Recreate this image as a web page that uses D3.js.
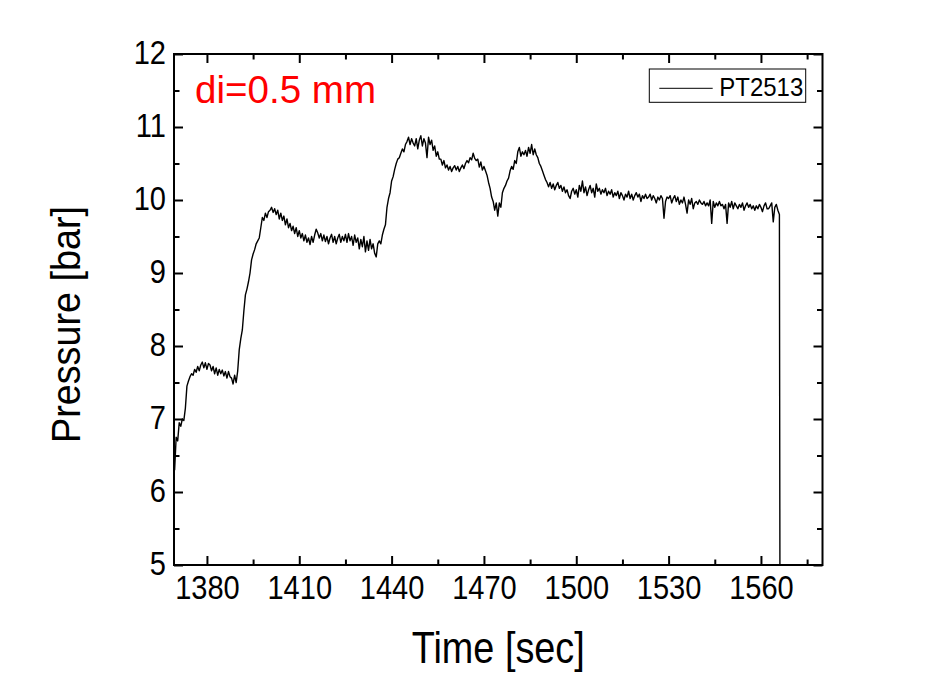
<!DOCTYPE html>
<html>
<head>
<meta charset="utf-8">
<script src="https://cdn.jsdelivr.net/npm/d3@7"></script>
<style>
  body { margin: 0; background: #fff; }
</style>
</head>
<body>
<div id="chart"></div>
<script>
// Sample times [sec]
const timeSec = [
  1369.5, 1370, 1370.5, 1371, 1371.5, 1372, 1372.5, 1373, 1373.5, 1374,
  1374.5, 1375, 1375.5, 1376, 1376.5, 1377, 1377.5, 1378, 1378.5, 1379,
  1379.5, 1380, 1380.5, 1381, 1381.5, 1382, 1382.5, 1383, 1383.5, 1384,
  1384.5, 1385, 1385.5, 1386, 1386.5, 1387, 1387.5, 1388, 1388.5, 1389,
  1389.5, 1390, 1390.5, 1391, 1391.5, 1392, 1392.5, 1393, 1393.5, 1394,
  1394.5, 1395, 1395.5, 1396, 1396.5, 1397, 1397.5, 1398, 1398.5, 1399,
  1399.5, 1400, 1400.5, 1401, 1401.5, 1402, 1402.5, 1403, 1403.5, 1404,
  1404.5, 1405, 1405.5, 1406, 1406.5, 1407, 1407.5, 1408, 1408.5, 1409,
  1409.5, 1410, 1410.5, 1411, 1411.5, 1412, 1412.5, 1413, 1413.5, 1414,
  1414.5, 1415, 1415.5, 1416, 1416.5, 1417, 1417.5, 1418, 1418.5, 1419,
  1419.5, 1420, 1420.5, 1421, 1421.5, 1422, 1422.5, 1423, 1423.5, 1424,
  1424.5, 1425, 1425.5, 1426, 1426.5, 1427, 1427.5, 1428, 1428.5, 1429,
  1429.5, 1430, 1430.5, 1431, 1431.5, 1432, 1432.5, 1433, 1433.5, 1434,
  1434.5, 1435, 1435.5, 1436, 1436.5, 1437, 1437.5, 1438, 1438.5, 1439,
  1439.5, 1440, 1440.5, 1441, 1441.5, 1442, 1442.5, 1443, 1443.5, 1444,
  1444.5, 1445, 1445.5, 1446, 1446.5, 1447, 1447.5, 1448, 1448.5, 1449,
  1449.5, 1450, 1450.5, 1451, 1451.5, 1452, 1452.5, 1453, 1453.5, 1454,
  1454.5, 1455, 1455.5, 1456, 1456.5, 1457, 1457.5, 1458, 1458.5, 1459,
  1459.5, 1460, 1460.5, 1461, 1461.5, 1462, 1462.5, 1463, 1463.5, 1464,
  1464.5, 1465, 1465.5, 1466, 1466.5, 1467, 1467.5, 1468, 1468.5, 1469,
  1469.5, 1470, 1470.5, 1471, 1471.5, 1472, 1472.5, 1473, 1473.5, 1474,
  1474.5, 1475, 1475.5, 1476, 1476.5, 1477, 1477.5, 1478, 1478.5, 1479,
  1479.5, 1480, 1480.5, 1481, 1481.5, 1482, 1482.5, 1483, 1483.5, 1484,
  1484.5, 1485, 1485.5, 1486, 1486.5, 1487, 1487.5, 1488, 1488.5, 1489,
  1489.5, 1490, 1490.5, 1491, 1491.5, 1492, 1492.5, 1493, 1493.5, 1494,
  1494.5, 1495, 1495.5, 1496, 1496.5, 1497, 1497.5, 1498, 1498.5, 1499,
  1499.5, 1500, 1500.5, 1501, 1501.5, 1502, 1502.5, 1503, 1503.5, 1504,
  1504.5, 1505, 1505.5, 1506, 1506.5, 1507, 1507.5, 1508, 1508.5, 1509,
  1509.5, 1510, 1510.5, 1511, 1511.5, 1512, 1512.5, 1513, 1513.5, 1514,
  1514.5, 1515, 1515.5, 1516, 1516.5, 1517, 1517.5, 1518, 1518.5, 1519,
  1519.5, 1520, 1520.5, 1521, 1521.5, 1522, 1522.5, 1523, 1523.5, 1524,
  1524.5, 1525, 1525.5, 1526, 1526.5, 1527, 1527.5, 1528, 1528.5, 1529,
  1529.5, 1530, 1530.5, 1531, 1531.5, 1532, 1532.5, 1533, 1533.5, 1534,
  1534.5, 1535, 1535.5, 1536, 1536.5, 1537, 1537.5, 1538, 1538.5, 1539,
  1539.5, 1540, 1540.5, 1541, 1541.5, 1542, 1542.5, 1543, 1543.5, 1544,
  1544.5, 1545, 1545.5, 1546, 1546.5, 1547, 1547.5, 1548, 1548.5, 1549,
  1549.5, 1550, 1550.5, 1551, 1551.5, 1552, 1552.5, 1553, 1553.5, 1554,
  1554.5, 1555, 1555.5, 1556, 1556.5, 1557, 1557.5, 1558, 1558.5, 1559,
  1559.5, 1560, 1560.5, 1561, 1561.5, 1562, 1562.5, 1563, 1563.5, 1564,
  1564.5, 1565, 1565.5, 1566, 1566.3
];

// PT2513 pressure [bar]
const pressureBar = [
  6.30, 6.75, 6.70, 6.95, 6.90, 7.00, 6.98, 7.15, 7.45, 7.52,
  7.58, 7.62, 7.60, 7.68, 7.64, 7.72, 7.66, 7.74, 7.78, 7.70,
  7.77, 7.68, 7.76, 7.74, 7.66, 7.72, 7.62, 7.70, 7.60, 7.68,
  7.62, 7.67, 7.59, 7.65, 7.56, 7.65, 7.58, 7.56, 7.48, 7.60,
  7.50, 7.66, 7.95, 8.10, 8.22, 8.48, 8.70, 8.78, 8.88, 9.00,
  9.18, 9.26, 9.32, 9.40, 9.44, 9.48, 9.62, 9.76, 9.72, 9.82,
  9.76, 9.84, 9.86, 9.90, 9.83, 9.88, 9.80, 9.86, 9.74, 9.82,
  9.72, 9.78, 9.66, 9.74, 9.62, 9.68, 9.58, 9.64, 9.54, 9.62,
  9.50, 9.58, 9.48, 9.54, 9.44, 9.52, 9.42, 9.48, 9.39, 9.50,
  9.42, 9.52, 9.60, 9.55, 9.48, 9.54, 9.44, 9.52, 9.43, 9.50,
  9.40, 9.48, 9.53, 9.42, 9.50, 9.40, 9.48, 9.53, 9.42, 9.50,
  9.44, 9.53, 9.42, 9.54, 9.44, 9.50, 9.38, 9.52, 9.42, 9.48,
  9.33, 9.46, 9.36, 9.50, 9.29, 9.44, 9.31, 9.46, 9.33, 9.40,
  9.27, 9.22, 9.40, 9.44, 9.40, 9.52, 9.60, 9.66, 9.90, 10.02,
  10.10, 10.26, 10.32, 10.42, 10.50, 10.56, 10.58, 10.64, 10.70, 10.66,
  10.76, 10.80, 10.86, 10.76, 10.84, 10.78, 10.74, 10.84, 10.70, 10.82,
  10.88, 10.74, 10.84, 10.78, 10.58, 10.86, 10.76, 10.82, 10.68, 10.74,
  10.60, 10.66, 10.56, 10.56, 10.48, 10.54, 10.44, 10.48, 10.41, 10.46,
  10.39, 10.44, 10.47, 10.41, 10.46, 10.39, 10.44, 10.48, 10.43, 10.50,
  10.54, 10.51, 10.58, 10.55, 10.64, 10.57, 10.54, 10.56, 10.45, 10.52,
  10.41, 10.46, 10.40, 10.34, 10.24, 10.16, 10.04, 9.98, 9.86, 9.96,
  9.78, 9.96, 9.90, 10.10, 10.16, 10.20, 10.26, 10.30, 10.40, 10.46,
  10.42, 10.54, 10.50, 10.66, 10.72, 10.60, 10.66, 10.62, 10.68, 10.60,
  10.72, 10.64, 10.76, 10.62, 10.70, 10.62, 10.58, 10.50, 10.46, 10.40,
  10.34, 10.28, 10.24, 10.18, 10.24, 10.16, 10.22, 10.14, 10.20, 10.24,
  10.16, 10.20, 10.12, 10.18, 10.10, 10.14, 10.06, 10.02, 10.12, 10.16,
  10.08, 10.14, 10.04, 10.20, 10.12, 10.26, 10.10, 10.18, 10.06, 10.14,
  10.20, 10.10, 10.16, 10.04, 10.22, 10.12, 10.16, 10.08, 10.14, 10.10,
  10.16, 10.06, 10.12, 10.08, 10.14, 10.04, 10.10, 10.06, 10.12, 10.02,
  10.10, 10.06, 10.00, 10.08, 10.04, 10.12, 10.02, 10.08, 10.00, 10.06,
  10.10, 10.04, 10.08, 9.98, 10.06, 10.02, 10.08, 10.02, 10.04, 10.08,
  10.00, 10.06, 10.02, 9.96, 10.04, 10.00, 10.06, 10.02, 9.75, 9.98,
  10.04, 10.02, 10.06, 9.96, 10.02, 10.06, 9.98, 10.04, 9.94, 10.00,
  9.96, 10.04, 9.94, 9.82, 10.00, 9.94, 10.02, 9.88, 9.96, 9.98,
  9.94, 10.00, 9.96, 9.94, 9.98, 9.92, 9.96, 9.92, 10.00, 9.68,
  9.98, 9.90, 9.96, 9.92, 9.98, 9.92, 9.94, 9.88, 9.94, 9.68,
  9.96, 9.90, 9.98, 9.88, 9.96, 9.92, 9.88, 9.94, 9.90, 9.96,
  9.86, 9.92, 9.96, 9.90, 9.94, 9.88, 9.92, 9.86, 9.92, 9.88,
  9.94, 9.90, 9.84, 9.92, 9.96, 9.88, 9.88, 9.92, 9.96, 9.70,
  9.90, 9.94, 9.86, 9.80, 1.00
];

const xMajorTicks = [1380, 1410, 1440, 1470, 1500, 1530, 1560];
const xMinorTicks = [1395, 1425, 1455, 1485, 1515, 1545, 1575];
const yMajorTicks = [5, 6, 7, 8, 9, 10, 11, 12];
const yMinorTicks = [5.5, 6.5, 7.5, 8.5, 9.5, 10.5, 11.5];
const seriesName = "PT2513";
const noteText = "di=0.5 mm";

const svgWidth = 927, svgHeight = 687;
const margin = {top: 54, right: 104.5, bottom: 122, left: 174};
const width = svgWidth - margin.left - margin.right;
const height = svgHeight - margin.top - margin.bottom;
const fontFamily = "'Liberation Sans', Arial, Helvetica, sans-serif";

// squeeze text horizontally, the original labels are narrow
function condense(sel, k) {
  sel.each(function() {
    var w = this.getComputedTextLength();
    d3.select(this).attr("textLength", w * k).attr("lengthAdjust", "spacingAndGlyphs");
  });
}

const svg = d3.select("#chart").append("svg")
  .attr("width", svgWidth)
  .attr("height", svgHeight)
  .style("background", "#fff");

const g = svg.append("g")
  .attr("transform", "translate(" + margin.left + "," + margin.top + ")");

// Scales
const x = d3.scaleLinear().domain([1369.3, 1580]).range([0, width]);
const y = d3.scaleLinear().domain([5, 12]).range([height, 0]);

// clip for the trace
svg.append("defs").append("clipPath").attr("id", "plot-clip")
  .append("rect").attr("width", width).attr("height", height);

// Axes (ticks point inward, mirrored on top and right)
function styleAxis(ax, w) {
  ax.attr("font-family", fontFamily).attr("font-size", null);
  ax.select(".domain").remove();
  ax.selectAll(".tick line").attr("stroke", "#000").attr("stroke-width", w);
}

const xAxis = g.append("g").attr("transform", "translate(0," + height + ")")
  .call(d3.axisBottom(x).tickValues(xMajorTicks).tickSize(-9).tickPadding(11).tickFormat(d3.format("d")));
styleAxis(xAxis, 2);
xAxis.selectAll("text").attr("font-size", "33px").attr("fill", "#000").call(condense, 0.88);

const xMinor = g.append("g").attr("transform", "translate(0," + height + ")")
  .call(d3.axisBottom(x).tickValues(xMinorTicks).tickSize(-5.5).tickFormat(""));
styleAxis(xMinor, 2);

const xTop = g.append("g")
  .call(d3.axisTop(x).tickValues(xMajorTicks).tickSize(-9).tickFormat(""));
styleAxis(xTop, 2);
const xTopMinor = g.append("g")
  .call(d3.axisTop(x).tickValues(xMinorTicks).tickSize(-5.5).tickFormat(""));
styleAxis(xTopMinor, 2);

const yAxis = g.append("g")
  .call(d3.axisLeft(y).tickValues(yMajorTicks).tickSize(-9).tickPadding(8).tickFormat(d3.format("d")));
styleAxis(yAxis, 2);
yAxis.selectAll("text").attr("font-size", "33px").attr("fill", "#000").attr("dy", "0.28em").call(condense, 0.88);

const yMinor = g.append("g")
  .call(d3.axisLeft(y).tickValues(yMinorTicks).tickSize(-5.5).tickFormat(""));
styleAxis(yMinor, 2);

const yRight = g.append("g").attr("transform", "translate(" + width + ",0)")
  .call(d3.axisRight(y).tickValues(yMajorTicks).tickSize(-9).tickFormat(""));
styleAxis(yRight, 2);
const yRightMinor = g.append("g").attr("transform", "translate(" + width + ",0)")
  .call(d3.axisRight(y).tickValues(yMinorTicks).tickSize(-5.5).tickFormat(""));
styleAxis(yRightMinor, 2);

// Trace
const line = d3.line()
  .x((d, i) => x(timeSec[i]))
  .y(d => y(d));

g.append("path")
  .datum(pressureBar)
  .attr("clip-path", "url(#plot-clip)")
  .attr("fill", "none")
  .attr("stroke", "#000")
  .attr("stroke-width", 1.4)
  .attr("stroke-linejoin", "round")
  .attr("d", line);

// Frame
g.append("rect")
  .attr("width", width)
  .attr("height", height)
  .attr("fill", "none")
  .attr("stroke", "#000")
  .attr("stroke-width", 2);

// Axis titles
svg.append("text")
  .attr("x", margin.left + width / 2)
  .attr("y", 663)
  .attr("text-anchor", "middle")
  .attr("font-family", fontFamily)
  .attr("font-size", "45px")
  .attr("textLength", 173)
  .attr("lengthAdjust", "spacingAndGlyphs")
  .text("Time [sec]");

svg.append("text")
  .attr("transform", "rotate(-90)")
  .attr("x", -324.5)
  .attr("y", 80)
  .attr("text-anchor", "middle")
  .attr("font-family", fontFamily)
  .attr("font-size", "41px")
  .attr("textLength", 237)
  .attr("lengthAdjust", "spacingAndGlyphs")
  .text("Pressure [bar]");

// Annotation
svg.append("text")
  .attr("x", 195)
  .attr("y", 102.7)
  .attr("font-family", fontFamily)
  .attr("font-size", "38px")
  .attr("fill", "#ff0000")
  .attr("textLength", 181)
  .attr("lengthAdjust", "spacingAndGlyphs")
  .text(noteText);

// Legend
const legend = svg.append("g").attr("transform", "translate(649.3,69)");
legend.append("rect")
  .attr("width", 156.4)
  .attr("height", 33.3)
  .attr("fill", "#fff")
  .attr("stroke", "#000")
  .attr("stroke-width", 1);
legend.append("line")
  .attr("x1", 10).attr("x2", 63.4)
  .attr("y1", 19.3).attr("y2", 19.3)
  .attr("stroke", "#000")
  .attr("stroke-width", 1);
legend.append("text")
  .attr("x", 70)
  .attr("y", 27)
  .attr("font-family", fontFamily)
  .attr("font-size", "26px")
  .attr("textLength", 84)
  .attr("lengthAdjust", "spacingAndGlyphs")
  .text(seriesName);
</script>
</body>
</html>
